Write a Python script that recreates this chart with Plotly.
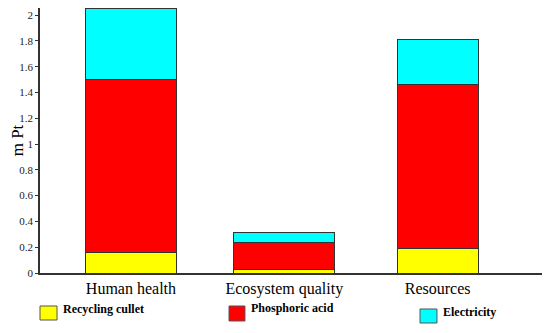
import plotly.graph_objects as go

categories = ["Human health", "Ecosystem quality", "Resources"]
recycling_cullet = [0.157, 0.03, 0.19]
phosphoric_acid = [1.343, 0.21, 1.27]
electricity = [0.555, 0.075, 0.35]
y_ticks = [0, 0.2, 0.4, 0.6, 0.8, 1, 1.2, 1.4, 1.6, 1.8, 2]
y_tick_text = ["0", "0.2", "0.4", "0.6", "0.8", "1", "1.2", "1.4", "1.6", "1.8", "2"]

SERIF = "Liberation Serif"
bar_widths = [0.59, 0.66, 0.53]

series = [
    ("Recycling cullet", recycling_cullet, "#ffff00"),
    ("Phosphoric acid", phosphoric_acid, "#ff0000"),
    ("Electricity", electricity, "#00ffff"),
]
# legend key placement (paper coords): x0, x1, y0, y1, text x, text y
legend_pos = [
    (0.0, 0.0337, -0.1774, -0.1245, 0.0416, -0.1358),
    (0.3743, 0.4059, -0.1811, -0.1245, 0.4139, -0.132),
    (0.7525, 0.7861, -0.1887, -0.1358, 0.794, -0.147),
]

fig = go.Figure()
for name, vals, col in series:
    fig.add_trace(go.Bar(
        x=categories, y=vals, name=name, width=bar_widths,
        marker=dict(color=col, line=dict(color="#333333", width=1)),
    ))

for (name, _, col), (x0, x1, y0, y1, tx, ty) in zip(series, legend_pos):
    fig.add_shape(type="rect", xref="paper", yref="paper", x0=x0, x1=x1, y0=y0, y1=y1,
                  fillcolor=col, line=dict(color="#555555", width=1))
    fig.add_annotation(xref="paper", yref="paper", x=tx, y=ty, xanchor="left", yanchor="middle",
                       text=f"<b>{name}</b>", showarrow=False,
                       font=dict(family=SERIF, size=12, color="black"))

fig.update_layout(
    barmode="stack",
    width=542, height=325,
    margin=dict(l=32, r=5, t=0, b=60),
    plot_bgcolor="white", paper_bgcolor="white",
    showlegend=False,
)
fig.update_xaxes(
    range=[-0.593, 2.70],
    showline=True, linecolor="#333333", linewidth=1.5,
    ticks="", showgrid=False, automargin=False,
    tickfont=dict(family=SERIF, size=16, color="black"),
)
fig.update_yaxes(
    range=[0, 2.055],
    tickvals=y_ticks, ticktext=y_tick_text,
    showline=True, linecolor="#333333", linewidth=1.5,
    ticks="outside", ticklen=3, tickcolor="#333333",
    showgrid=False, zeroline=False, automargin=False,
    tickfont=dict(family="Liberation Sans Narrow", size=11, color="#222222"),
    title=dict(text="m Pt", font=dict(family=SERIF, size=17, color="black"), standoff=2),
)

fig.write_html("out.html")
